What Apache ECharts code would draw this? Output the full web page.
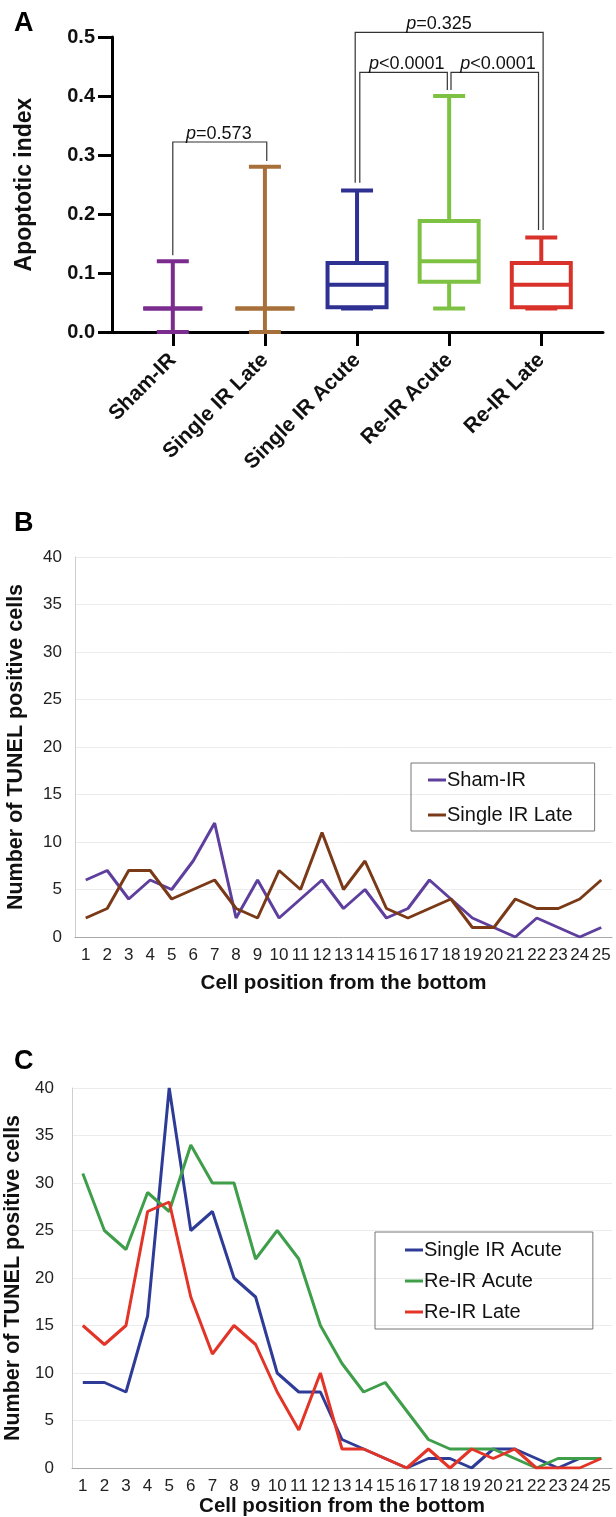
<!DOCTYPE html>
<html>
<head>
<meta charset="utf-8">
<script src="https://cdn.jsdelivr.net/npm/echarts@6/dist/echarts.min.js"></script>
<style>
html,body{margin:0;padding:0;background:#fff;}
#main{width:616px;height:1517px;}
</style>
</head>
<body>
<div id="main"></div>
<script>
// panel A: box plot summary (min, q1, median, q3, max)
var groups = ['Sham-IR', 'Single IR Late', 'Single IR Acute', 'Re-IR Acute', 'Re-IR Late'];
var boxMin = [0, 0, 0.04, 0.04, 0.04];
var boxQ1 = [0.04, 0.04, 0.042, 0.085, 0.042];
var boxMedian = [0.04, 0.04, 0.08, 0.12, 0.08];
var boxQ3 = [0.04, 0.04, 0.117, 0.188, 0.117];
var boxMax = [0.12, 0.28, 0.24, 0.40, 0.16];
var boxColors = ['#7b2c8e', '#a7703a', '#2e3192', '#7dc242', '#d8322b'];

// significance brackets: [left idx, right idx, top, left leg end, right leg end]
var brackets = [
  [0, 1.02, 0.322, 0.13, 0.29],
  [1.98, 4.02, 0.508, 0.253, 0.173],
  [2.03, 2.98, 0.44, 0.253, 0.41],
  [3.02, 3.97, 0.44, 0.41, 0.173]
];
var bracketText = ['=0.573', '=0.325', '<0.0001', '<0.0001'];
var bracketTextX = [0.5, 2.89, 2.54, 3.53];

// panels B & C
var positions = [];
for (var k = 1; k <= 25; k++) positions.push(String(k));
var shamIR = [6, 7, 4, 6, 5, 8, 12, 2, 6, 2, 4, 6, 3, 5, 2, 3, 6, 4, 2, 1, 0, 2, 1, 0, 1];
var singleIRLate = [2, 3, 7, 7, 4, 5, 6, 3, 2, 7, 5, 11, 5, 8, 3, 2, 3, 4, 1, 1, 4, 3, 3, 4, 6];
var singleIRAcute = [9, 9, 8, 16, 40, 25, 27, 20, 18, 10, 8, 8, 3, 2, 1, 0, 1, 1, 0, 2, 2, 1, 0, 1, 1];
var reIRAcute = [31, 25, 23, 29, 27, 34, 30, 30, 22, 25, 22, 15, 11, 8, 9, 6, 3, 2, 2, 2, 1, 0, 1, 1, 1];
var reIRLate = [15, 13, 15, 27, 28, 18, 12, 15, 13, 8, 4, 10, 2, 2, 1, 0, 2, 0, 2, 1, 2, 0, 0, 0, 1];

var FONT = '"Liberation Sans", Arial, Helvetica, sans-serif';

var boxData = groups.map(function (g, i) {
  return [i, boxMin[i], boxQ1[i], boxMedian[i], boxQ3[i], boxMax[i]];
});

function renderBox(params, api) {
  var i = api.value(0);
  var lo = api.coord([i, api.value(1)]);
  var q1 = api.coord([i, api.value(2)]);
  var md = api.coord([i, api.value(3)]);
  var q3 = api.coord([i, api.value(4)]);
  var hi = api.coord([i, api.value(5)]);
  var x = lo[0], bw = 59, cw = 32;
  var st = {stroke: boxColors[i], lineWidth: 4, fill: null};
  return {type: 'group', children: [
    {type: 'line', shape: {x1: x, y1: lo[1], x2: x, y2: q1[1]}, style: st},
    {type: 'line', shape: {x1: x, y1: q3[1], x2: x, y2: hi[1]}, style: st},
    {type: 'line', shape: {x1: x - cw / 2, y1: lo[1], x2: x + cw / 2, y2: lo[1]}, style: st},
    {type: 'line', shape: {x1: x - cw / 2, y1: hi[1], x2: x + cw / 2, y2: hi[1]}, style: st},
    {type: 'rect', shape: {x: x - bw / 2, y: q3[1], width: bw, height: q1[1] - q3[1]}, style: st},
    {type: 'line', shape: {x1: x - bw / 2, y1: md[1], x2: x + bw / 2, y2: md[1]}, style: st}
  ]};
}

function renderBracket(params, api) {
  var b = brackets[params.dataIndex];
  var p1 = api.coord([b[0], b[3]]);
  var p2 = api.coord([b[0], b[2]]);
  var p3 = api.coord([b[1], b[2]]);
  var p4 = api.coord([b[1], b[4]]);
  var t = api.coord([bracketTextX[params.dataIndex], b[2]]);
  return {type: 'group', children: [
    {type: 'polyline', shape: {points: [p1, p2, p3, p4]},
      style: {stroke: '#333', lineWidth: 1.2, fill: null}},
    {type: 'text', x: t[0], y: t[1] + 1, style: {
      text: '{i|p}{n|' + bracketText[params.dataIndex] + '}',
      align: 'center', verticalAlign: 'bottom',
      rich: {
        i: {fontStyle: 'italic', fontSize: 18, fontFamily: FONT, fill: '#111'},
        n: {fontSize: 18, fontFamily: FONT, fill: '#111'}
      }
    }}
  ]};
}

function lineSeries(name, data, color, axis) {
  return {
    name: name, type: 'line', data: data, xAxisIndex: axis, yAxisIndex: axis,
    symbol: 'none', lineStyle: {width: 3, color: color}, itemStyle: {color: color},
    z: 3
  };
}

var chart = echarts.init(document.getElementById('main'));
var lightAxis = function (gi, name, gap, lblMargin) {
  return {
    gridIndex: gi, type: 'value', min: 0, max: 40, interval: 5,
    name: name, nameLocation: 'middle', nameGap: gap,
    nameTextStyle: {fontSize: 21.5, fontWeight: 'bold', color: '#111', fontFamily: FONT},
    axisLine: {show: true, lineStyle: {color: '#cfcfcf', width: 1}},
    axisTick: {show: false},
    axisLabel: {fontSize: 17, color: '#222', margin: lblMargin, fontFamily: FONT},
    splitLine: {lineStyle: {color: '#ececec', width: 1}}
  };
};
var catAxis = function (gi, gap, lblMargin) {
  return {
    gridIndex: gi, type: 'category', data: positions, boundaryGap: true,
    name: 'Cell position from the bottom', nameLocation: 'middle', nameGap: gap,
    nameTextStyle: {fontSize: 20.5, fontWeight: 'bold', color: '#111', fontFamily: FONT},
    axisLine: {lineStyle: {color: '#a8a8a8', width: 1}},
    axisTick: {show: false},
    axisLabel: {fontSize: 17, color: '#222', margin: lblMargin, interval: 0, fontFamily: FONT}
  };
};

chart.setOption({
  animation: false,
  textStyle: {fontFamily: FONT},
  grid: [
    {left: 112, right: 13, top: 37, height: 295, outerBoundsMode: 'none'},
    {left: 75, right: 4, top: 557, height: 380, outerBoundsMode: 'none'},
    {left: 72, right: 4, top: 1088, height: 380, outerBoundsMode: 'none'}
  ],
  xAxis: [
    {
      gridIndex: 0, type: 'value', min: -0.66, max: 4.67,
      axisLine: {onZero: false, lineStyle: {color: '#000', width: 3}},
      axisTick: {show: true, customValues: [0, 1, 2, 3, 4], length: 14, lineStyle: {color: '#000', width: 3}},
      axisLabel: {
        customValues: [0, 1, 2, 3, 4], rotate: 45, margin: 25,
        fontSize: 21, fontWeight: 'bold', color: '#111', fontFamily: FONT,
        formatter: function (v) { return groups[Math.round(v)]; }
      },
      splitLine: {show: false}
    },
    catAxis(1, 36, 10),
    catAxis(2, 27, 10)
  ],
  yAxis: [
    {
      gridIndex: 0, type: 'value', min: 0, max: 0.5, interval: 0.1,
      name: 'Apoptotic index', nameLocation: 'middle', nameGap: 76,
      nameTextStyle: {fontSize: 23, fontWeight: 'bold', color: '#111', fontFamily: FONT},
      axisLine: {show: true, onZero: false, lineStyle: {color: '#000', width: 3}},
      axisTick: {show: true, length: 14, lineStyle: {color: '#000', width: 3}},
      axisLabel: {fontSize: 20, fontWeight: 'bold', color: '#111', margin: 17, fontFamily: FONT,
        formatter: function (v) { return v.toFixed(1); }},
      splitLine: {show: false}
    },
    lightAxis(1, 'Number of TUNEL positive cells', 48, 13),
    lightAxis(2, 'Number of TUNEL positive cells', 45, 18)
  ],
  legend: [
    {
      data: ['Sham-IR', 'Single IR Late'], orient: 'vertical', left: 411, top: 763,
      icon: 'rect', itemWidth: 18, itemHeight: 3, itemGap: 15,
      padding: [7, 22, 6, 17], borderColor: '#777', borderWidth: 1,
      textStyle: {fontSize: 20, color: '#111', padding: [0, 0, 0, -4], fontFamily: FONT}
    },
    {
      data: ['Single IR Acute', 'Re-IR Acute', 'Re-IR Late'], orient: 'vertical', left: 375, top: 1232,
      icon: 'rect', itemWidth: 18, itemHeight: 3, itemGap: 11,
      padding: [8, 31, 7, 30], borderColor: '#777', borderWidth: 1,
      textStyle: {fontSize: 20, color: '#111', padding: [0, 0, 0, -4], fontFamily: FONT}
    }
  ],
  graphic: [
    {type: 'text', left: 14, top: 10, style: {text: 'A', fontSize: 27, fontWeight: 'bold', fill: '#000', fontFamily: FONT}},
    {type: 'text', left: 14, top: 510, style: {text: 'B', fontSize: 27, fontWeight: 'bold', fill: '#000', fontFamily: FONT}},
    {type: 'text', left: 14, top: 1048, style: {text: 'C', fontSize: 27, fontWeight: 'bold', fill: '#000', fontFamily: FONT}}
  ],
  series: [
    {
      type: 'custom', xAxisIndex: 0, yAxisIndex: 0, data: boxData,
      encode: {x: 0, y: [1, 2, 3, 4, 5]}, renderItem: renderBox, clip: false, z: 3
    },
    {
      type: 'custom', xAxisIndex: 0, yAxisIndex: 0, data: brackets,
      encode: {x: [0, 1], y: [2, 3, 4]}, renderItem: renderBracket, clip: false, z: 4
    },
    lineSeries('Sham-IR', shamIR, '#5e3f9e', 1),
    lineSeries('Single IR Late', singleIRLate, '#7b3a17', 1),
    lineSeries('Single IR Acute', singleIRAcute, '#2f3c97', 2),
    lineSeries('Re-IR Acute', reIRAcute, '#3e9e4a', 2),
    lineSeries('Re-IR Late', reIRLate, '#e33428', 2)
  ]
});
</script>
</body>
</html>
